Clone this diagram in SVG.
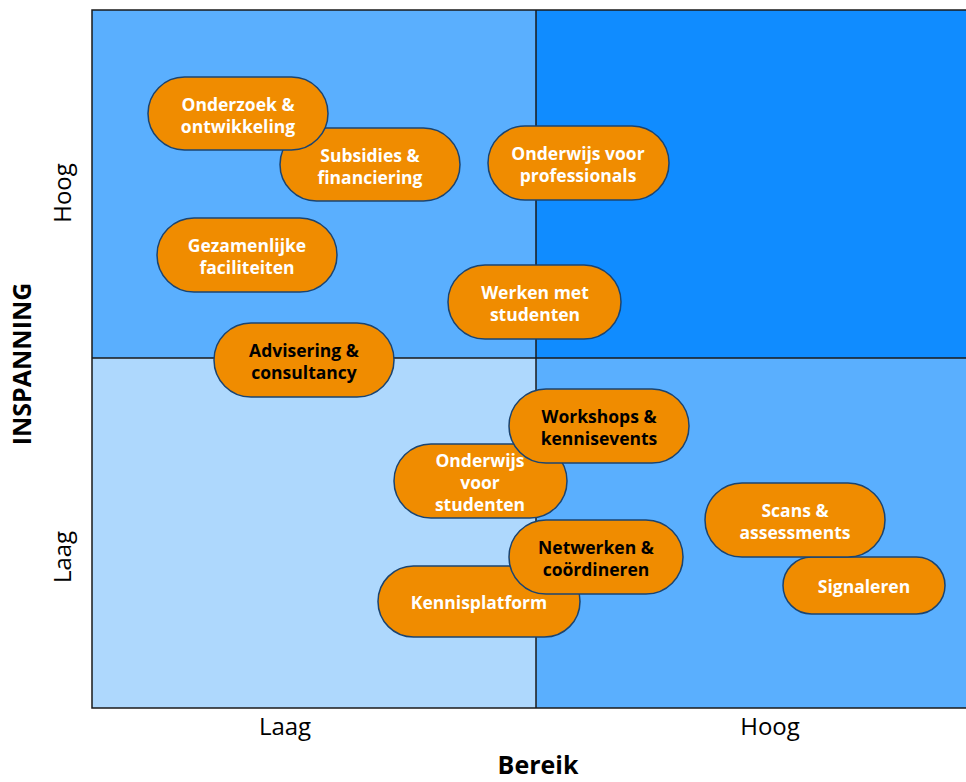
<svg xmlns="http://www.w3.org/2000/svg" width="966" height="782" viewBox="0 0 966 782">
<style>
.pill{fill:#f08c00;stroke:#1b4470;stroke-width:1.5}
.t{font-family:"Open Sans","Noto Sans",sans-serif;font-weight:700;font-size:17.5px;text-anchor:middle}
.w{fill:#ffffff}
.b{fill:#000000}
.ax{font-family:"Open Sans","Noto Sans",sans-serif;font-size:24px;fill:#000;text-anchor:middle}
.axb{font-family:"Open Sans","Noto Sans",sans-serif;font-size:25px;font-weight:700;fill:#000;text-anchor:middle}
</style>
<rect width="966" height="782" fill="#ffffff"/>
<g id="quadrants">
<rect x="92" y="10" width="444" height="348" fill="#5aaffe"/>
<rect x="536" y="10" width="432" height="348" fill="#108cff"/>
<rect x="92" y="358" width="444" height="350" fill="#aed8fd"/>
<rect x="536" y="358" width="432" height="350" fill="#5aaffe"/>
<rect x="92" y="10" width="880" height="698" fill="none" stroke="#1a1a1a" stroke-width="1.5"/>
<line x1="536" y1="10" x2="536" y2="708" stroke="#1a1a1a" stroke-width="1.5"/>
<line x1="92" y1="358" x2="968" y2="358" stroke="#1a1a1a" stroke-width="1.5"/>
</g>
<g id="axes">
<text class="ax" transform="translate(71,193) rotate(-90)">Hoog</text>
<text class="ax" transform="translate(71,557) rotate(-90)">Laag</text>
<text class="axb" transform="translate(31,364) rotate(-90)">INSPANNING</text>
<text class="ax" x="285" y="735">Laag</text>
<text class="ax" x="770" y="735">Hoog</text>
<text class="axb" x="538" y="774">Bereik</text>
</g>
<g id="connectors"></g>
<g id="n-subsidies"><rect class="pill" x="280" y="128" width="180" height="73" rx="36.5"/><text class="t w" x="370" y="162">Subsidies &amp;</text><text class="t w" x="370" y="184">financiering</text></g>
<g id="n-onderzoek"><rect class="pill" x="148" y="77" width="180" height="73" rx="36.5"/><text class="t w" x="238" y="111">Onderzoek &amp;</text><text class="t w" x="238" y="133">ontwikkeling</text></g>
<g id="n-ovp"><rect class="pill" x="488" y="126" width="181" height="74" rx="37"/><text class="t w" x="578" y="160">Onderwijs voor</text><text class="t w" x="578" y="182">professionals</text></g>
<g id="n-gezamenlijk"><rect class="pill" x="157" y="218" width="180" height="74" rx="37"/><text class="t w" x="247" y="252">Gezamenlijke</text><text class="t w" x="247" y="274">faciliteiten</text></g>
<g id="n-werken"><rect class="pill" x="448" y="265" width="173" height="74" rx="37"/><text class="t w" x="535" y="299">Werken met</text><text class="t w" x="535" y="321">studenten</text></g>
<g id="n-advisering"><rect class="pill" x="214" y="323" width="180" height="74" rx="37"/><text class="t b" x="304" y="357">Advisering &amp;</text><text class="t b" x="304" y="379">consultancy</text></g>
<g id="n-ovs"><rect class="pill" x="394" y="444" width="173" height="74" rx="37"/><text class="t w" x="480" y="467">Onderwijs</text><text class="t w" x="480" y="489">voor</text><text class="t w" x="480" y="511">studenten</text></g>
<g id="n-workshops"><rect class="pill" x="509" y="389" width="180" height="74" rx="37"/><text class="t b" x="599" y="423">Workshops &amp;</text><text class="t b" x="599" y="445">kennisevents</text></g>
<g id="n-kennisplatform"><rect class="pill" x="378" y="566" width="202" height="71" rx="35.5"/><text class="t w" x="479" y="609">Kennisplatform</text></g>
<g id="n-netwerken"><rect class="pill" x="509" y="520" width="174" height="74" rx="37"/><text class="t b" x="596" y="554">Netwerken &amp;</text><text class="t b" x="596" y="576">coördineren</text></g>
<g id="n-signaleren"><rect class="pill" x="783" y="557" width="162" height="57" rx="28.5"/><text class="t w" x="864" y="593">Signaleren</text></g>
<g id="n-scans"><rect class="pill" x="705" y="483" width="180" height="74" rx="37"/><text class="t w" x="795" y="517">Scans &amp;</text><text class="t w" x="795" y="539">assessments</text></g>
</svg>
